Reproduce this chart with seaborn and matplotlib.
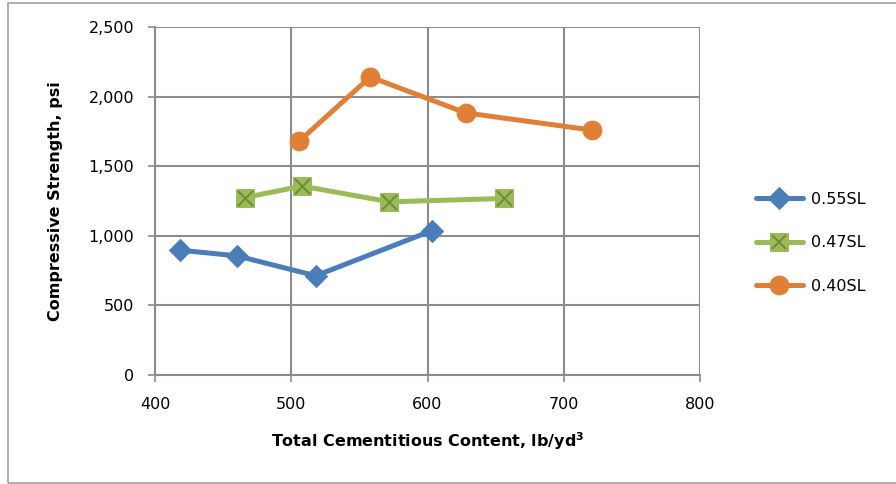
import numpy as np
import pandas as pd
import matplotlib
matplotlib.use("Agg")
import matplotlib.pyplot as plt
import seaborn as sns
from matplotlib.ticker import FuncFormatter
from matplotlib.patches import Rectangle

# data
x_055 = [418, 460, 518, 603]
y_055 = [897, 856, 713, 1036]
x_047 = [466, 508, 572, 656]
y_047 = [1275, 1357, 1244, 1268]
x_040 = [506, 558, 628, 721]
y_040 = [1682, 2141, 1883, 1759]
labels = ["0.55SL", "0.47SL", "0.40SL"]

sns.set_style("white")
plt.rcParams["font.family"] = ["DejaVu Sans"]
plt.rcParams["text.color"] = "black"
plt.rcParams["axes.labelcolor"] = "black"
fs = 11.5

fig = plt.figure(figsize=(8.96, 4.84), dpi=100)
ax = fig.add_axes([155 / 896, 1 - 375 / 484, 545 / 896, 348 / 484])

grid_c = "#8C8C8C"
ax.set_axisbelow(True)
ax.grid(True, color=grid_c, linewidth=1.5)

blue, green, orange = "#4A7EBB", "#9BBB59", "#E07F35"

sns.lineplot(x=x_055, y=y_055, ax=ax, color=blue, linewidth=3.6,
             marker="D", markersize=11, markeredgecolor=blue, sort=False)
sns.lineplot(x=x_047, y=y_047, ax=ax, color=green, linewidth=3.6,
             marker="s", markersize=12.5, markeredgecolor=green, sort=False)
ax.scatter(x_047, y_047, marker="x", s=120, color="#6F8A3A", linewidths=1.4, zorder=5)
sns.lineplot(x=x_040, y=y_040, ax=ax, color=orange, linewidth=3.6,
             marker="o", markersize=13.5, markeredgecolor=orange, sort=False)

lines = ax.get_lines()
h1, h2, h3 = lines[-3], lines[-2], lines[-1]
hx = plt.Line2D([], [], linestyle="none", marker="x", markersize=10,
                color="#6F8A3A", markeredgewidth=1.4)
ax.legend([h1, (h2, hx), h3], labels, frameon=False, loc="center left",
          bbox_to_anchor=(1.077, 0.38), handlelength=2.9, labelspacing=1.8,
          handletextpad=0.5, fontsize=fs)

ax.set_xlim(400, 800)
ax.set_ylim(0, 2500)
ax.set_xticks([400, 500, 600, 700, 800])
ax.set_yticks([0, 500, 1000, 1500, 2000, 2500])
ax.yaxis.set_major_formatter(FuncFormatter(lambda v, p: f"{int(v):,}"))

for s in ax.spines.values():
    s.set_visible(False)
ax.spines["left"].set_visible(True)
ax.spines["bottom"].set_visible(True)
ax.spines["left"].set_color(grid_c)
ax.spines["bottom"].set_color(grid_c)
ax.spines["left"].set_linewidth(1.5)
ax.spines["bottom"].set_linewidth(1.5)

ax.tick_params(axis="both", which="both", direction="out", length=5, width=1.2,
               color=grid_c, labelsize=fs, labelcolor="black",
               bottom=True, left=True)
ax.tick_params(axis="x", pad=11)
ax.tick_params(axis="y", pad=10)

ax.set_xlabel("Total Cementitious Content, lb/yd$^{\\mathbf{3}}$", fontsize=fs,
              fontweight="bold", labelpad=13)
ax.set_ylabel("Compressive Strength, psi", fontsize=fs, fontweight="bold", labelpad=18)

fig.patches.append(Rectangle((8 / 896, 1 / 484), 1.0, 1 - 4 / 484,
                             transform=fig.transFigure, fill=False,
                             edgecolor="#A0A0A0", linewidth=1.2))

fig.savefig("out.png", dpi=100)
